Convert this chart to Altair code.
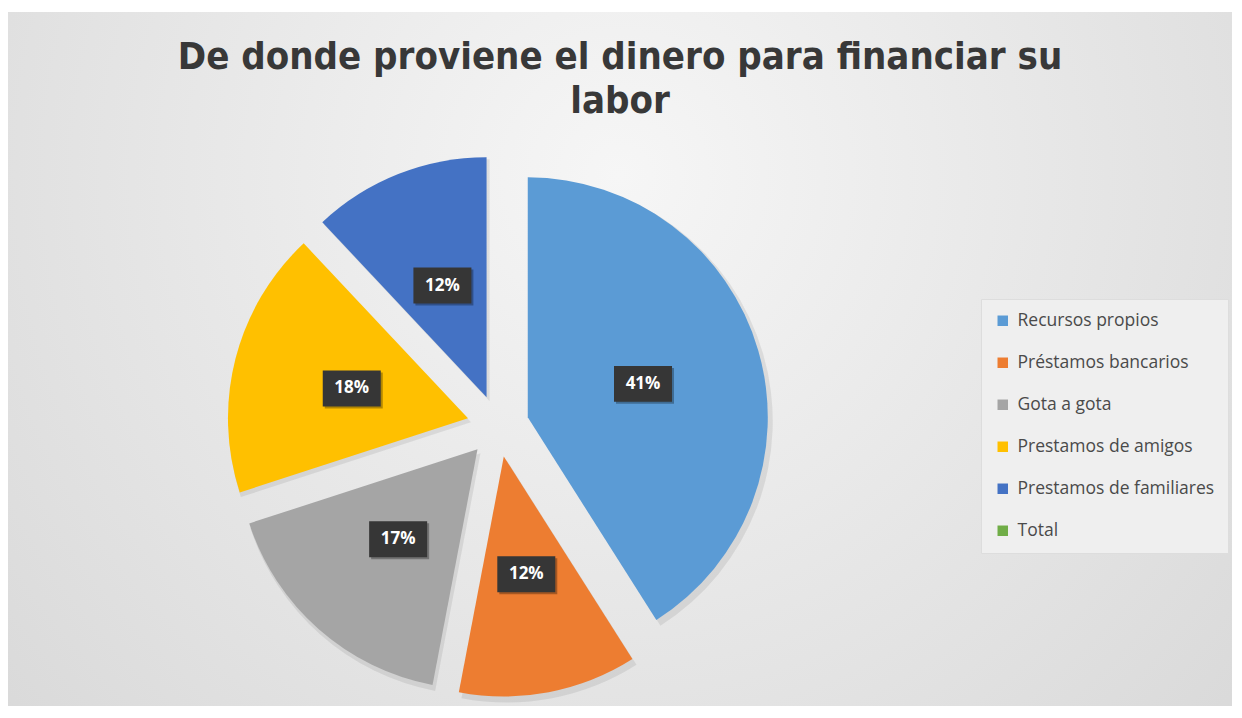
import altair as alt
import pandas as pd

categories = ["Recursos propios", "Préstamos bancarios", "Gota a gota",
              "Prestamos de amigos", "Prestamos de familiares", "Total"]
values = [41, 12, 17, 18, 12, 0]
labels = ["41%", "12%", "17%", "18%", "12%", ""]
colors = ["#5B9BD5", "#ED7D31", "#A5A5A5", "#FFC000", "#4472C4", "#70AD47"]
title_lines = ["De donde proviene el dinero para financiar su", "labor"]

df = pd.DataFrame({"cat": categories, "value": values, "label": labels,
                   "order": list(range(len(categories)))})

W, H = 1224, 694
CX, CY = 490, 414
R = 240
EXPLODE = 31
LABEL_R = 120
BOX = 58

xs = alt.Scale(domain=[-CX, W - CX], range=[0, W])
ys = alt.Scale(domain=[-CY, H - CY], range=[0, H])

base = (
    alt.Chart(df)
    .transform_window(cum="sum(value)", sort=[alt.SortField("order")], frame=[None, 0])
    .transform_joinaggregate(total="sum(value)")
    .transform_calculate(t0="(datum.cum - datum.value) / datum.total * 2 * PI")
    .transform_calculate(t1="datum.cum / datum.total * 2 * PI")
    .transform_calculate(mid="(datum.t0 + datum.t1) / 2")
    .transform_calculate(ox=f"{EXPLODE} * sin(datum.mid)")
    .transform_calculate(oy=f"-{EXPLODE} * cos(datum.mid)")
    .transform_calculate(lx=f"{EXPLODE + LABEL_R} * sin(datum.mid)")
    .transform_calculate(ly=f"-{EXPLODE + LABEL_R} * cos(datum.mid)")
)

bg = alt.Chart(pd.DataFrame({"a": [0]})).mark_rect(
    color=alt.RadialGradient(
        gradient="radial", x1=0.5, y1=0.35, r1=0, x2=0.5, y2=0.35, r2=0.75,
        stops=[alt.GradientStop(color="#f6f6f6", offset=0),
               alt.GradientStop(color="#d6d6d6", offset=1)],
    )
).encode(x=alt.value(0), x2=alt.value(W), y=alt.value(0), y2=alt.value(H))

shadow = base.mark_arc(radius=R + 2, color="#000000", opacity=0.08, xOffset=3, yOffset=4).encode(
    x=alt.X("ox:Q", scale=xs, axis=None),
    y=alt.Y("oy:Q", scale=ys, axis=None),
    theta=alt.Theta("t0:Q", scale=None, stack=None),
    theta2="t1:Q",
)

arcs = base.mark_arc(radius=R).encode(
    x=alt.X("ox:Q", scale=xs, axis=None),
    y=alt.Y("oy:Q", scale=ys, axis=None),
    theta=alt.Theta("t0:Q", scale=None, stack=None),
    theta2="t1:Q",
    color=alt.Color(
        "cat:N",
        scale=alt.Scale(domain=categories, range=colors),
        legend=alt.Legend(
            title=None, orient="none", legendX=973, legendY=287,
            symbolType="square", symbolSize=110, symbolStrokeWidth=0,
            labelFont="Open Sans", labelFontSize=17.5, labelColor="#4a4a4a",
            labelLimit=400, rowPadding=23, padding=13, labelOffset=6,
            fillColor="#efefef", strokeColor="#dddddd",
        ),
    ),
)

box_shape = "M-1,-0.62L1,-0.62L1,0.62L-1,0.62Z"
lab = base.transform_filter("datum.label != ''")

box_shadow = lab.mark_point(shape=box_shape, size=BOX * BOX, filled=True, color="#000000",
                            opacity=0.3, strokeWidth=0, xOffset=2, yOffset=2).encode(
    x=alt.X("lx:Q", scale=xs, axis=None), y=alt.Y("ly:Q", scale=ys, axis=None))

boxes = lab.mark_point(shape=box_shape, size=BOX * BOX, filled=True, color="#363636",
                       opacity=1, strokeWidth=0).encode(
    x=alt.X("lx:Q", scale=xs, axis=None), y=alt.Y("ly:Q", scale=ys, axis=None))

texts = lab.mark_text(font="Open Sans", fontSize=17, fontWeight="bold", color="white",
                      align="center", baseline="middle").encode(
    x=alt.X("lx:Q", scale=xs, axis=None), y=alt.Y("ly:Q", scale=ys, axis=None),
    text="label:N")

chart = alt.layer(bg, shadow, arcs, box_shadow, boxes, texts).properties(
    width=W, height=H,
    autosize=alt.AutoSizeParams(type="none"),
    padding={"top": 4, "left": 0, "right": 0, "bottom": 0},
    title=alt.TitleParams(
        text=title_lines, font="DejaVu Sans Condensed", fontSize=38, fontWeight="bold",
        color="#383838", anchor="middle", frame="group", lineHeight=44, dy=113,
    ),
).configure_view(stroke=None).configure(background="#ffffff")

chart.save("out.html", embed_options={"renderer": "svg", "actions": False})
